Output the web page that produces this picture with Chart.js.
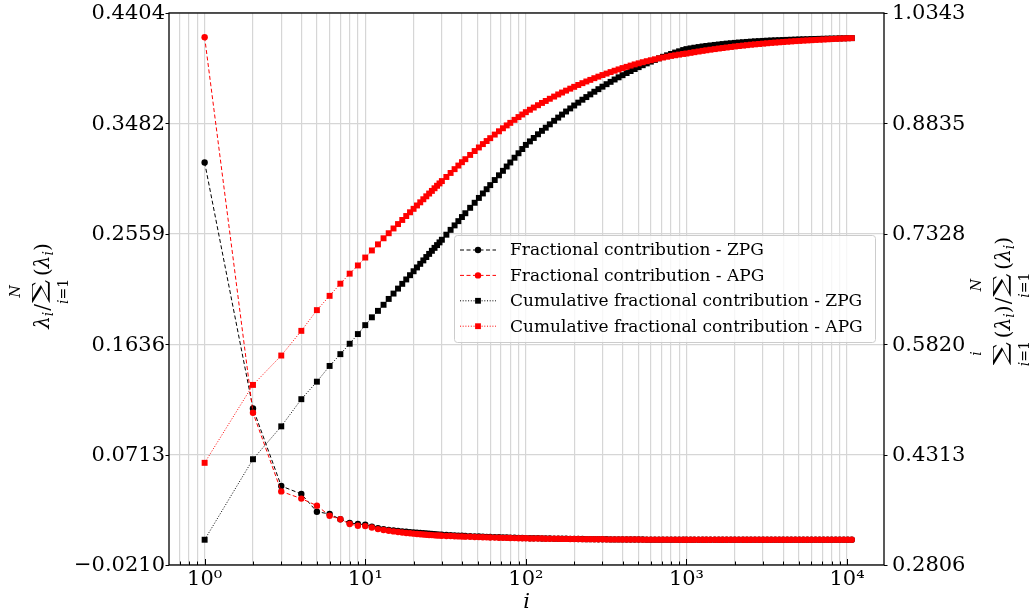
<!DOCTYPE html>
<html>
<head>
<meta charset="utf-8">
<script src="https://cdn.jsdelivr.net/npm/chart.js@4.4.1/dist/chart.umd.min.js"></script>
<style>html,body{margin:0;padding:0;background:#fff}</style>
</head>
<body>
<canvas id="mycanvas" width="1032" height="613"></canvas>
<script>
// eigenvalue index i
var iVals = [1,2,3,4,5,6,7,8,9,10,11,12,13,14,15,16,17,18,19,20,21,22,23,24,25,26,27,28,29,30,
	32,34,36,38,40,42,45,48,51,54,57,60,64,68,72,76,80,85,90,95,100,
	106,112,119,126,133,141,150,159,168,178,189,200,
	212,225,238,252,267,283,300,318,337,357,378,400,
	424,449,476,504,534,566,600,636,674,714,757,802,850,900,954,1000,
	1060,1120,1190,1260,1330,1410,1500,1590,1680,1780,1890,2000,
	2120,2250,2380,2520,2670,2830,3000,3180,3370,3570,3780,4000,
	4240,4490,4760,5040,5340,5660,6000,6360,6740,7140,7570,8020,8500,9000,9540,10100,10700];

// fractional contribution (left axis)
var fracZPG = [0.3155,0.1099,0.0450,0.0384,0.0235,0.0217,0.0172,0.0142,0.0133,0.0127,0.0110,0.0097,0.0090,0.0084,0.0079,0.0075,0.0071,0.0068,0.0065,0.0062,0.0059,0.0057,0.0055,0.0053,0.0051,0.0049,0.0047,0.0046,0.0044,0.0043,
	0.0041,0.0039,0.0037,0.0035,0.0034,0.0033,0.0031,0.0029,0.0028,0.0026,0.0025,0.0024,0.0023,0.0022,0.0021,0.0020,0.0019,0.0018,0.0017,0.0016,0.0015,
	0.0014,0.0014,0.0013,0.0012,0.0012,0.0011,0.0010,0.0010,0.0009,0.0009,0.0008,0.0008,
	0.0007,0.0007,0.0006,0.0006,0.0006,0.0005,0.0005,0.0005,0.0004,0.0004,0.0004,0.0004,
	0.0003,0.0003,0.0003,0.0003,0.0003,0.0002,0.0002,0.0002,0.0002,0.0002,0.0002,0.0002,0.0002,0.0001,0.0001,0.0001,
	0.0001,0.0001,0.0001,0.0001,0.0001,0.0001,0.0001,0.0001,0.0001,0.0001,0.0001,0.0001,
	0.0001,0.0001,0.0001,0.0001,0.0001,0.0001,0.0001,0.0001,0.0001,0.0001,0.0001,0.0001,
	0.00005,0.00005,0.00005,0.00005,0.00005,0.00005,0.00005,0.00005,0.00005,0.00005,0.00005,0.00005,0.00005,0.00005,0.00005,0.00005,0.00005];
var fracAPG = [0.4202,0.1063,0.0405,0.0345,0.0286,0.0202,0.0172,0.0133,0.0118,0.0115,0.0103,0.0090,0.0082,0.0076,0.0071,0.0066,0.0062,0.0058,0.0055,0.0052,0.0049,0.0047,0.0045,0.0043,0.0041,0.0040,0.0038,0.0037,0.0036,0.0035,
	0.0033,0.0032,0.0030,0.0029,0.0028,0.0027,0.0026,0.0024,0.0023,0.0022,0.0021,0.0020,0.0019,0.0018,0.0017,0.0017,0.0016,0.0015,0.0014,0.0014,0.0013,
	0.0012,0.0012,0.0011,0.0011,0.0010,0.0010,0.0009,0.0009,0.0008,0.0008,0.0007,0.0007,
	0.0007,0.0006,0.0006,0.0006,0.0005,0.0005,0.0005,0.0004,0.0004,0.0004,0.0004,0.0003,
	0.0003,0.0003,0.0003,0.0003,0.0002,0.0002,0.0002,0.0002,0.0002,0.0002,0.0002,0.0002,0.0001,0.0001,0.0001,0.0001,
	0.0001,0.0001,0.0001,0.0001,0.0001,0.0001,0.0001,0.0001,0.0001,0.0001,0.0001,0.0001,
	0.0001,0.0001,0.0001,0.0001,0.0001,0.0001,0.0001,0.0001,0.0001,0.0001,0.0001,0.0001,
	0.00005,0.00005,0.00005,0.00005,0.00005,0.00005,0.00005,0.00005,0.00005,0.00005,0.00005,0.00005,0.00005,0.00005,0.00005,0.00005,0.00005];

// cumulative fractional contribution (right axis)
var cumZPG = [0.3151,0.4250,0.4699,0.5070,0.5309,0.5524,0.5685,0.5827,0.5959,0.6081,0.6188,0.6276,0.6359,0.6439,0.6512,0.6580,0.6645,0.6705,0.6763,0.6817,0.6869,0.6918,0.6965,0.7011,0.7054,0.7096,0.7136,0.7174,0.7211,0.7247,
	0.7316,0.7382,0.7443,0.7501,0.7557,0.7609,0.7683,0.7752,0.7818,0.7879,0.7937,0.7993,0.8062,0.8127,0.8188,0.8247,0.8302,0.8367,0.8428,0.8486,0.8542,
	0.8590,0.8637,0.8687,0.8734,0.8777,0.8823,0.8871,0.8915,0.8956,0.8998,0.9040,0.9080,
	0.9119,0.9159,0.9195,0.9232,0.9268,0.9303,0.9337,0.9371,0.9403,0.9435,0.9465,0.9494,
	0.9523,0.9551,0.9578,0.9604,0.9630,0.9655,0.9679,0.9702,0.9724,0.9745,0.9765,0.9784,0.9803,0.9820,0.9837,0.9850,
	0.9860,0.9869,0.9878,0.9886,0.9893,0.9900,0.9907,0.9913,0.9919,0.9925,0.9930,0.9935,
	0.9940,0.9944,0.9948,0.9952,0.9956,0.9959,0.9962,0.9965,0.9968,0.9970,0.9972,0.9974,
	0.9976,0.9978,0.9980,0.9982,0.9984,0.9985,0.9987,0.9988,0.9990,0.9991,0.9993,0.9994,0.9995,0.9997,0.9998,0.9999,1.0000];
var cumAPG = [0.4201,0.5265,0.5666,0.6003,0.6286,0.6481,0.6647,0.6784,0.6896,0.7004,0.7101,0.7184,0.7267,0.7336,0.7401,0.7461,0.7517,0.7571,0.7622,0.7669,0.7715,0.7758,0.7800,0.7840,0.7878,0.7914,0.7950,0.7984,0.8016,0.8048,
	0.8104,0.8159,0.8211,0.8260,0.8306,0.8347,0.8405,0.8458,0.8507,0.8553,0.8595,0.8634,0.8683,0.8728,0.8769,0.8808,0.8843,0.8884,0.8922,0.8957,0.8989,
	0.9022,0.9052,0.9084,0.9115,0.9142,0.9172,0.9202,0.9231,0.9257,0.9283,0.9310,0.9335,
	0.9360,0.9385,0.9408,0.9430,0.9453,0.9474,0.9496,0.9516,0.9536,0.9555,0.9573,0.9591,
	0.9608,0.9625,0.9641,0.9656,0.9671,0.9685,0.9698,0.9711,0.9724,0.9735,0.9746,0.9757,0.9766,0.9775,0.9784,0.9790,
	0.9799,0.9808,0.9817,0.9826,0.9834,0.9842,0.9850,0.9858,0.9865,0.9872,0.9879,0.9886,
	0.9892,0.9898,0.9904,0.9910,0.9915,0.9920,0.9925,0.9930,0.9935,0.9939,0.9943,0.9947,
	0.9951,0.9955,0.9959,0.9962,0.9966,0.9969,0.9972,0.9975,0.9978,0.9981,0.9984,0.9987,0.9990,0.9993,0.9995,0.9998,1.0000];

var seriesNames = ["Fractional contribution - ZPG", "Fractional contribution - APG",
	"Cumulative fractional contribution - ZPG", "Cumulative fractional contribution - APG"];

// axis ticks
var xTicks = [0.7,0.8,0.9,1,2,3,4,5,6,7,8,9,10,20,30,40,50,60,70,80,90,100,200,300,400,500,600,700,800,900,
	1000,2000,3000,4000,5000,6000,7000,8000,9000,10000];
var leftTicks = [-0.0210, 0.0713, 0.1636, 0.2559, 0.3482, 0.4404];
var rightTicks = [0.2806, 0.4313, 0.5820, 0.7328, 0.8835, 1.0343];
var supDigits = ['\u2070','\u00b9','\u00b2','\u00b3','\u2074'];

var SERIF = '"DejaVu Serif", serif';
var GRID = '#d6d6d6';

function pts(arr) {
	return iVals.map(function(v, k){ return {x: v, y: arr[k]}; });
}
function isDecade(v) {
	var e = Math.log10(v);
	return Math.abs(e - Math.round(e)) < 1e-9;
}
function fmt(v) {
	var s = Math.abs(v).toFixed(4);
	return v < 0 ? '\u2212' + s : s;
}

// mathtext-ish label, laid out along u, drawn rotated
var SUM_W = 23, SUM_H = 18;
function layoutRuns(ctx, items) {
	var out = [], u = 0;
	items.forEach(function(it){
		if (it.sum) {
			var cx = u + SUM_W / 2;
			out.push({sum: true, x: u});
			[[it.sup, -29], [it.sub, 19]].forEach(function(lim){
				var tw = 0;
				lim[0].forEach(function(r){ ctx.font = r[1]; tw += ctx.measureText(r[0]).width; });
				var lx = cx - tw / 2;
				lim[0].forEach(function(r){
					ctx.font = r[1];
					out.push({t: r[0], f: r[1], x: lx, y: lim[1]});
					lx += ctx.measureText(r[0]).width;
				});
			});
			u += SUM_W + 4;
		} else {
			ctx.font = it.f;
			out.push({t: it.t, f: it.f, x: u + (it.pre || 0), y: it.dy || 0});
			u += ctx.measureText(it.t).width + (it.pre || 0) + (it.gap || 0);
		}
	});
	return {runs: out, width: u};
}
function drawSum(ctx, u) {
	ctx.font = '100px ' + SERIF;
	var m = ctx.measureText('\u2211');
	var gw = m.actualBoundingBoxLeft + m.actualBoundingBoxRight;
	var gh = m.actualBoundingBoxAscent + m.actualBoundingBoxDescent;
	ctx.save();
	ctx.translate(u, 1);
	ctx.scale(SUM_W / gw, SUM_H / gh);
	ctx.fillText('\u2211', m.actualBoundingBoxLeft, -m.actualBoundingBoxDescent);
	ctx.restore();
}
function drawRotated(ctx, cy, baseX, items) {
	var lay = layoutRuns(ctx, items);
	ctx.save();
	ctx.translate(baseX, cy + lay.width / 2);
	ctx.rotate(-Math.PI / 2);
	ctx.fillStyle = '#000';
	ctx.textBaseline = 'alphabetic';
	ctx.textAlign = 'left';
	lay.runs.forEach(function(r){
		if (r.sum) { drawSum(ctx, r.x); return; }
		ctx.font = r.f;
		ctx.fillText(r.t, r.x, r.y);
	});
	ctx.restore();
}

var I20 = 'italic 20px ' + SERIF, R20 = '20px ' + SERIF;
var I14 = 'italic 14px ' + SERIF, R14 = '14px ' + SERIF;

var leftLabel = [
	{t:'\u03bb', f:I20}, {t:'i', f:I14, dy:4}, {t:'/', f:R20, pre:1, gap:1},
	{sum:true, sup:[['N', I14]], sub:[['i', I14], ['=1', R14]]},
	{t:'(', f:R20}, {t:'\u03bb', f:I20}, {t:'i', f:I14, dy:4}, {t:')', f:R20}
];
var rightLabel = [
	{sum:true, sup:[['i', I14]], sub:[['i', I14], ['=1', R14]]},
	{t:'(', f:R20}, {t:'\u03bb', f:I20}, {t:'i', f:I14, dy:4}, {t:')', f:R20}, {t:'/', f:R20, pre:1, gap:1},
	{sum:true, sup:[['N', I14]], sub:[['i', I14], ['=1', R14]]},
	{t:'(', f:R20}, {t:'\u03bb', f:I20}, {t:'i', f:I14, dy:4}, {t:')', f:R20}
];

var decor = {
	id: 'decor',
	afterDraw: function(chart) {
		var ctx = chart.ctx, a = chart.chartArea;
		var xs = chart.scales.x, yl = chart.scales.y, yr = chart.scales.y2;
		ctx.save();
		ctx.strokeStyle = '#000';
		ctx.lineWidth = 1;
		ctx.setLineDash([]);
		// x ticks point inwards
		xs.ticks.forEach(function(t){
			var px = Math.round(xs.getPixelForValue(t.value)) + 0.5;
			var len = isDecade(t.value) ? 6 : 3.5;
			ctx.beginPath(); ctx.moveTo(px, a.bottom); ctx.lineTo(px, a.bottom - len); ctx.stroke();
		});
		// y ticks point outwards
		yl.ticks.forEach(function(t){
			var py = Math.round(yl.getPixelForValue(t.value)) + 0.5;
			ctx.beginPath(); ctx.moveTo(a.left, py); ctx.lineTo(a.left - 3.5, py); ctx.stroke();
		});
		yr.ticks.forEach(function(t){
			var py = Math.round(yr.getPixelForValue(t.value)) + 0.5;
			ctx.beginPath(); ctx.moveTo(a.right, py); ctx.lineTo(a.right + 3.5, py); ctx.stroke();
		});
		// frame
		ctx.lineWidth = 1.3;
		ctx.strokeRect(a.left, a.top, a.right - a.left, a.bottom - a.top);

		// legend
		var lx = 454, ly = 235, lw = 421, lh = 107;
		ctx.beginPath();
		ctx.roundRect(lx + 0.5, ly + 0.5, lw, lh, 3);
		ctx.fillStyle = 'rgba(255,255,255,0.8)';
		ctx.fill();
		ctx.strokeStyle = '#cccccc';
		ctx.lineWidth = 1;
		ctx.stroke();
		[0, 1, 2, 3].forEach(function(k, row){
			var ds = chart.data.datasets[k];
			var yy = 250 + row * 25.4;
			ctx.strokeStyle = ds.borderColor;
			ctx.lineWidth = 1;
			ctx.setLineDash(ds.borderDash);
			ctx.beginPath(); ctx.moveTo(460, yy); ctx.lineTo(496, yy); ctx.stroke();
			ctx.setLineDash([]);
			ctx.fillStyle = ds.pointBackgroundColor;
			if (ds.pointStyle === 'rect') {
				ctx.fillRect(478 - 2.9, yy - 2.9, 5.8, 5.8);
			} else {
				ctx.beginPath(); ctx.arc(478, yy, 3.2, 0, Math.PI * 2); ctx.fill();
			}
			ctx.fillStyle = '#000';
			ctx.font = '17px ' + SERIF;
			ctx.textBaseline = 'middle';
			ctx.textAlign = 'left';
			ctx.fillText(seriesNames[k], 510, yy + 1);
		});

		// axis titles
		ctx.fillStyle = '#000';
		ctx.font = 'italic 21px ' + SERIF;
		ctx.textAlign = 'center';
		ctx.textBaseline = 'alphabetic';
		ctx.fillText('i', (a.left + a.right) / 2, 608);
		drawRotated(ctx, 286, 49, leftLabel);
		drawRotated(ctx, 301, 1010, rightLabel);
		ctx.restore();
	}
};

function tickFont() { return {family: SERIF, size: 21}; }
function noPadY(s, w) { s.width = w; s.paddingTop = 0; s.paddingBottom = 0; }

var chartdata = {
	datasets: [
		{
			label: seriesNames[0], data: pts(fracZPG), yAxisID: 'y',
			borderColor: '#000000', borderWidth: 1, borderDash: [4, 2.5],
			pointStyle: 'circle', pointRadius: 3.2, pointBackgroundColor: '#000000', pointBorderWidth: 0,
			showLine: true, fill: false, order: 3
		},
		{
			label: seriesNames[1], data: pts(fracAPG), yAxisID: 'y',
			borderColor: '#ff0000', borderWidth: 1, borderDash: [4, 2.5],
			pointStyle: 'circle', pointRadius: 3.2, pointBackgroundColor: '#ff0000', pointBorderWidth: 0,
			showLine: true, fill: false, order: 2
		},
		{
			label: seriesNames[2], data: pts(cumZPG), yAxisID: 'y2',
			borderColor: '#000000', borderWidth: 1, borderDash: [1, 1.7],
			pointStyle: 'rect', pointRadius: 4.2, pointBackgroundColor: '#000000', pointBorderWidth: 0,
			showLine: true, fill: false, order: 1
		},
		{
			label: seriesNames[3], data: pts(cumAPG), yAxisID: 'y2',
			borderColor: '#ff0000', borderWidth: 1, borderDash: [1, 1.7],
			pointStyle: 'rect', pointRadius: 4.2, pointBackgroundColor: '#ff0000', pointBorderWidth: 0,
			showLine: true, fill: false, order: 0
		}
	]
};

var ctx = document.getElementById('mycanvas');
var LineGraph = new Chart(ctx, {
	type: 'scatter',
	data: chartdata,
	options: {
		responsive: false,
		animation: false,
		devicePixelRatio: 1,
		layout: {padding: {top: 13, left: 0, right: 0, bottom: 0}},
		plugins: {legend: {display: false}, tooltip: {enabled: false}},
		elements: {line: {tension: 0}},
		scales: {
			x: {
				type: 'logarithmic', position: 'bottom', min: 0.632, max: 16980,
				afterBuildTicks: function(s){ s.ticks = xTicks.map(function(v){ return {value: v}; }); },
				afterFit: function(s){ s.height = 48; s.paddingLeft = 0; s.paddingRight = 0; },
				ticks: {
					autoSkip: false, maxRotation: 0, minRotation: 0, padding: 2,
					color: '#000', font: tickFont(),
					callback: function(v){ return isDecade(v) ? '10' + supDigits[Math.round(Math.log10(v))] : ''; }
				},
				grid: {color: GRID, lineWidth: 1.2, drawTicks: false},
				border: {display: false}
			},
			y: {
				type: 'linear', position: 'left', min: -0.0210, max: 0.4404,
				afterBuildTicks: function(s){ s.ticks = leftTicks.map(function(v){ return {value: v}; }); },
				afterFit: function(s){ noPadY(s, 169); },
				ticks: {padding: 4, labelOffset: 1, color: '#000', font: tickFont(), callback: function(v){ return fmt(v); }},
				grid: {color: GRID, lineWidth: 1.2, drawTicks: false},
				border: {display: false}
			},
			y2: {
				type: 'linear', position: 'right', min: 0.2806, max: 1.0343,
				afterBuildTicks: function(s){ s.ticks = rightTicks.map(function(v){ return {value: v}; }); },
				afterFit: function(s){ noPadY(s, 148); },
				ticks: {padding: 8, labelOffset: 1, color: '#000', font: tickFont(), callback: function(v){ return fmt(v); }},
				grid: {drawOnChartArea: false, drawTicks: false},
				border: {display: false}
			}
		}
	},
	plugins: [decor]
});
</script>
</body>
</html>
